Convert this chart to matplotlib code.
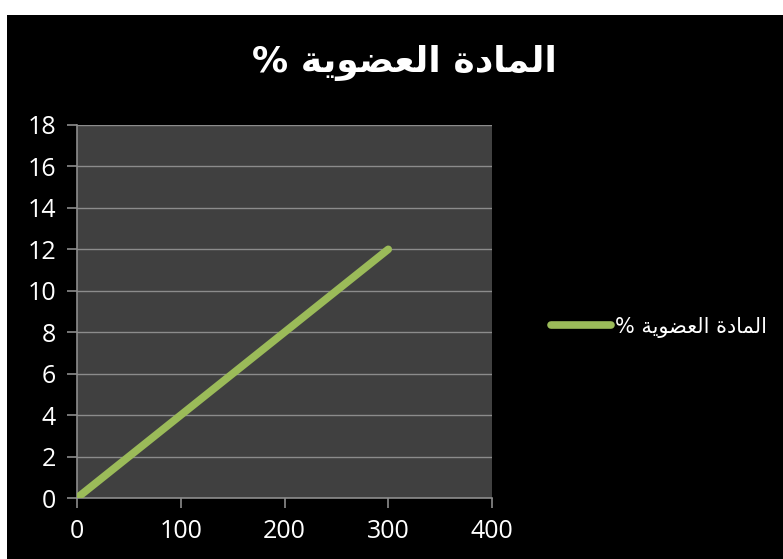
import matplotlib
matplotlib.use("Agg")
import matplotlib.pyplot as plt
from matplotlib.patches import Rectangle

# data
x_vals = [0, 100, 200, 300]
y_vals = [0, 4, 8, 12]
x_ticks = [0, 100, 200, 300, 400]
y_ticks = [0, 2, 4, 6, 8, 10, 12, 14, 16, 18]

# "المادة العضوية %" written in presentation forms, visual (left-to-right) order
word1 = "\uFE8D\uFEDF\uFEE4\uFE8E\uFEA9\uFE93"          # المادة
word2 = "\uFE8D\uFEDF\uFECC\uFEC0\uFEEE\uFEF3\uFE94"    # العضوية
series_name = "% " + word2[::-1] + " " + word1[::-1]

fig = plt.figure(figsize=(7.83, 5.59), dpi=100)
fig.patch.set_facecolor("white")
fig.patches.append(Rectangle((7 / 783, 0), 1, 1 - 15 / 559, transform=fig.transFigure,
                             facecolor="black", edgecolor="none", zorder=-10))

ax = fig.add_axes([77 / 783, 1 - 498 / 559, (492 - 77) / 783, (498 - 125) / 559])
ax.set_zorder(1)
ax.set_facecolor("#404040")

ax.plot(x_vals, y_vals, color="#9BBB59", linewidth=5.5, solid_capstyle="round",
        label=series_name, zorder=3)

ax.set_xlim(0, 400)
ax.set_ylim(0, 18)
ax.set_xticks(x_ticks)
ax.set_yticks(y_ticks)
ax.grid(axis="y", color="#8C8C8C", linewidth=1)
ax.set_axisbelow(True)

for side in ["top", "right"]:
    ax.spines[side].set_visible(False)
for side in ["left", "bottom"]:
    ax.spines[side].set_color("#8C8C8C")
    ax.spines[side].set_linewidth(1.2)

ax.tick_params(colors="#8C8C8C", length=7, width=1.2, direction="out",
               labelcolor="white", pad=8)
for lab in ax.get_xticklabels() + ax.get_yticklabels():
    lab.set_family("Open Sans")
    lab.set_fontsize(18)

fig.text(404 / 783, 1 - 63 / 559, series_name, color="white", fontsize=26,
         fontweight="bold", family="DejaVu Sans", ha="center", va="center")

leg = ax.legend(loc="center left", bbox_to_anchor=(532 / 783, 1 - 327 / 559),
                bbox_transform=fig.transFigure, frameon=False, handlelength=2.9,
                handletextpad=0.2, prop={"family": "DejaVu Sans", "size": 15})
for t in leg.get_texts():
    t.set_color("white")

fig.savefig("out.png", dpi=100, facecolor=fig.get_facecolor())
